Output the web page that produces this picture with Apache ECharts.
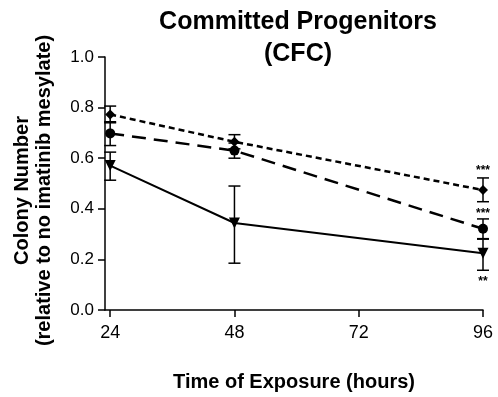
<!DOCTYPE html>
<html>
<head>
<meta charset="utf-8">
<script src="https://cdn.jsdelivr.net/npm/echarts@6/dist/echarts.min.js"></script>
<style>
  html, body { margin: 0; padding: 0; background: #fff; }
  #chart { width: 498px; height: 397px; }
</style>
</head>
<body>
<div id="chart"></div>
<script>
// hours of exposure
const hours = [24, 48, 72, 96];
const timePoints = [24, 48, 96];

// colony number relative to untreated, with error bar ends
const diamondMean = [0.773, 0.665, 0.474];
const diamondLow = [0.74, 0.637, 0.428];
const diamondHigh = [0.806, 0.693, 0.522];

const circleMean = [0.698, 0.63, 0.321];
const circleLow = [0.65, 0.60, 0.282];
const circleHigh = [0.744, 0.66, 0.36];

const triangleMean = [0.571, 0.344, 0.224];
const triangleLow = [0.513, 0.185, 0.157];
const triangleHigh = [0.624, 0.49, 0.28];

// significance marks at 96 h
const sigX = [96, 96, 96];
const sigY = [0.55, 0.38, 0.11];
const sigText = ['***', '***', '**'];

const chart = echarts.init(document.getElementById('chart'));

const pairs = (xs, ys) => xs.map((x, i) => [x, ys[i]]);

function errorSeries(low, high) {
  return {
    type: 'custom',
    z: 3,
    data: timePoints.map((x, i) => [x, low[i], high[i]]),
    renderItem: (params, api) => {
      const lo = api.coord([api.value(0), api.value(1)]);
      const hi = api.coord([api.value(0), api.value(2)]);
      const w = 6;
      const style = { stroke: '#000', lineWidth: 1.5 };
      return {
        type: 'group',
        children: [
          { type: 'line', shape: { x1: lo[0], y1: lo[1], x2: hi[0], y2: hi[1] }, style },
          { type: 'line', shape: { x1: hi[0] - w, y1: hi[1], x2: hi[0] + w, y2: hi[1] }, style },
          { type: 'line', shape: { x1: lo[0] - w, y1: lo[1], x2: lo[0] + w, y2: lo[1] }, style }
        ]
      };
    }
  };
}

const font = 'Liberation Sans, Arial, sans-serif';

const option = {
  animation: false,
  backgroundColor: '#fff',
  title: {
    text: 'Committed Progenitors\n(CFC)',
    left: 293,
    top: 1,
    textAlign: 'center',
    textStyle: { fontFamily: font, fontWeight: 'bold', fontSize: 25, lineHeight: 32, color: '#000' }
  },
  grid: { left: 105, right: 15, top: 57, bottom: 84, containLabel: false },
  xAxis: {
    type: 'value',
    min: 23,
    max: 96,
    name: 'Time of Exposure (hours)',
    nameLocation: 'middle',
    nameGap: 62,
    nameTextStyle: { fontFamily: font, fontWeight: 'bold', fontSize: 20, color: '#000' },
    splitLine: { show: false },
    axisLine: { lineStyle: { color: '#000', width: 1.5 } },
    axisTick: { customValues: hours, length: 7, lineStyle: { color: '#000', width: 1.5 } },
    axisLabel: { customValues: hours, fontFamily: font, fontSize: 18, color: '#000', margin: 14 }
  },
  yAxis: {
    type: 'value',
    min: 0,
    max: 1,
    interval: 0.2,
    name: 'Colony Number\n(relative to no imatinib mesylate)',
    nameLocation: 'middle',
    nameGap: 50,
    nameTextStyle: { fontFamily: font, fontWeight: 'bold', fontSize: 20, lineHeight: 22, color: '#000', padding: [0, 14, 0, 0] },
    splitLine: { show: false },
    axisLine: { show: true, lineStyle: { color: '#000', width: 1.5 } },
    axisTick: { show: true, length: 7, lineStyle: { color: '#000', width: 1.5 } },
    axisLabel: { fontFamily: font, fontSize: 17, color: '#000', margin: 11, formatter: v => v.toFixed(1) }
  },
  series: [
    errorSeries(diamondLow, diamondHigh),
    errorSeries(circleLow, circleHigh),
    errorSeries(triangleLow, triangleHigh),
    {
      type: 'line',
      data: pairs(timePoints, diamondMean),
      symbol: 'diamond',
      symbolSize: 10,
      itemStyle: { color: '#000' },
      lineStyle: { color: '#000', width: 2.5, type: [6, 4] },
      z: 4
    },
    {
      type: 'line',
      data: pairs(timePoints, circleMean),
      symbol: 'circle',
      symbolSize: 10,
      itemStyle: { color: '#000' },
      lineStyle: { color: '#000', width: 2.5, type: [14, 8] },
      z: 4
    },
    {
      type: 'line',
      data: pairs(timePoints, triangleMean),
      symbol: 'triangle',
      symbolRotate: 180,
      symbolSize: 11,
      itemStyle: { color: '#000' },
      lineStyle: { color: '#000', width: 2 },
      z: 4
    },
    {
      type: 'custom',
      z: 5,
      data: sigX.map((x, i) => [x, sigY[i], sigText[i]]),
      renderItem: (params, api) => {
        const p = api.coord([api.value(0), api.value(1)]);
        return {
          type: 'text',
          x: p[0],
          y: p[1],
          style: {
            text: sigText[params.dataIndex],
            fontFamily: font,
            fontSize: 12,
            fontWeight: 'bold',
            fill: '#000',
            align: 'center',
            verticalAlign: 'middle'
          }
        };
      }
    }
  ]
};

chart.setOption(option);
</script>
</body>
</html>
